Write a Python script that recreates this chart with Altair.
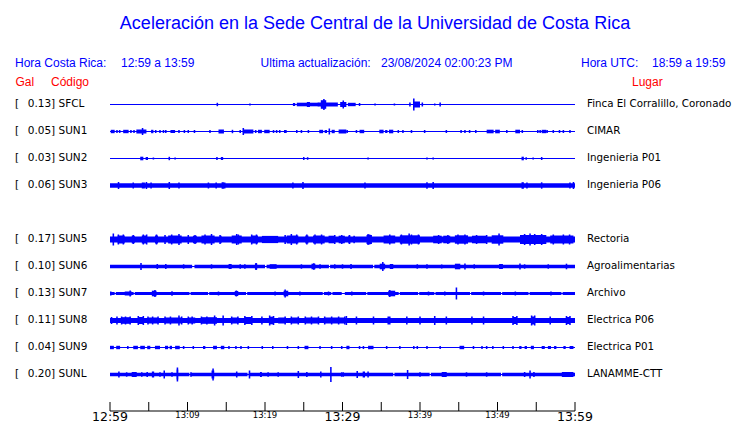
import altair as alt
import pandas as pd

# ---------------- data ----------------
STATIONS = ["SFCL", "SUN1", "SUN2", "SUN3", "SUN5", "SUN6", "SUN7", "SUN8", "SUN9", "SUNL"]
ROWS = [0, 1, 2, 3, 5, 6, 7, 8, 9, 10]
PEAK_GAL = ["0.13", "0.05", "0.03", "0.06", "0.17", "0.10", "0.13", "0.11", "0.04", "0.20"]
LUGAR = ["Finca El Corralillo, Coronado", "CIMAR", "Ingenieria P01", "Ingenieria P06",
         "Rectoria", "Agroalimentarias", "Archivo", "Electrica P06", "Electrica P01", "LANAMME-CTT"]

# background (noise) half-amplitude of each trace, display units (27 = one trace spacing)
BASE_AMP = [0.5, 0.5, 0.5, 2.2, 3.0, 1.7, 1.5, 2.5, 0.5, 1.7]

# bursts: (start minute, end minute, half-amplitude)  minutes after 12:59
SFCL_BLOCKS = [(23.6, 23.9, 1.5), (24.1, 26.9, 1.8), (25.4, 25.8, 2.5), (26.8, 29.4, 2.0),
               (27.2, 27.9, 4.3), (29.7, 30.5, 2.5), (30.7, 31.7, 1.7), (38.6, 38.8, 2.0),
               (39.1, 40.0, 3.0), (40.2, 40.4, 2.0), (42.5, 42.7, 2.0)]
SFCL_SPIKES = [(13.85, 1.7), (18.06, 1.0), (27.6, 5.5), (30.1, 4.0), (32.2, 1.5), (34.2, 1.0),
               (36.7, 1.0), (39.2, 6.0), (41.9, 1.0)]

SUN1_BLOCKS = [(0.1, 0.6, 1.7), (1.7, 2.4, 1.7), (3.0, 3.2, 1.5), (3.4, 4.7, 2.0), (5.3, 5.6, 1.7),
               (7.8, 8.4, 1.5), (14.0, 14.7, 2.0), (15.7, 15.9, 1.7), (17.2, 18.5, 2.0),
               (19.1, 19.6, 1.7), (19.9, 20.6, 1.7), (22.45, 22.8, 1.5), (27.0, 27.5, 1.7),
               (27.7, 28.0, 1.5), (28.6, 29.0, 1.7), (29.5, 30.5, 2.0), (31.7, 31.9, 1.5),
               (32.2, 32.8, 1.7), (34.75, 35.3, 1.8), (35.5, 35.8, 1.5), (36.0, 36.55, 1.8),
               (45.2, 45.4, 1.5), (48.6, 49.5, 1.8), (49.7, 50.3, 1.8), (52.3, 52.9, 1.8),
               (55.7, 56.3, 1.7)]
SUN1_SPIKES = [(0.9, 1.5), (1.25, 1.5), (2.7, 1.5), (4.2, 3.5), (5.9, 1.5), (6.45, 1.5), (6.9, 1.5),
               (7.2, 1.5), (8.9, 1.5), (9.6, 1.5), (10.1, 1.5), (10.9, 1.5), (12.9, 1.5),
               (16.8, 1.5), (17.2, 3.5), (18.8, 1.5), (21.1, 1.5), (21.5, 1.5), (21.9, 1.5),
               (24.1, 1.5), (24.7, 1.5), (25.6, 1.5), (28.3, 3.0), (30.6, 1.5), (37.2, 1.5),
               (37.8, 1.5), (38.9, 1.5), (40.6, 1.5), (43.4, 1.5), (45.8, 1.5), (46.4, 1.5),
               (47.2, 1.5), (51.2, 1.5), (53.2, 1.5), (55.2, 1.5), (55.5, 1.5), (56.4, 1.5),
               (57.2, 1.5), (58.0, 1.5), (58.5, 1.5), (59.35, 1.5)]

SUN2_BLOCKS = [(3.9, 4.3, 1.8), (4.6, 4.9, 1.5), (13.7, 13.9, 1.5), (14.3, 14.6, 1.5),
               (24.9, 25.1, 1.5), (53.1, 53.4, 1.8), (55.6, 55.8, 1.5)]
SUN2_SPIKES = [(5.6, 1.0), (7.65, 1.7), (8.4, 1.0), (25.5, 1.3), (33.3, 1.0), (40.9, 1.0),
               (41.7, 1.0), (53.7, 1.3), (54.6, 1.0)]

SUN3_BLOCKS = [(4.1, 4.5, 3.0), (14.4, 14.7, 3.3), (53.1, 53.4, 3.3)]
SUN3_SPIKES = [(1.1, 3.5), (3.0, 3.0), (4.7, 3.5), (5.3, 3.0), (7.65, 3.5), (8.9, 3.0), (12.7, 3.0),
               (13.7, 3.0), (14.8, 3.0), (23.6, 3.0), (24.9, 3.5), (32.9, 3.0), (40.9, 3.2),
               (41.7, 3.5), (53.8, 3.0), (55.7, 3.2), (59.35, 3.0), (59.8, 3.5)]

SUN5_BLOCKS = [(1.0, 1.9, 4.0), (2.8, 3.2, 3.8), (4.1, 4.7, 4.0), (5.8, 6.2, 4.0), (7.5, 9.25, 4.0),
               (10.7, 11.2, 3.8), (11.8, 13.5, 4.0), (14.2, 14.4, 3.8), (15.7, 17.0, 4.0),
               (18.3, 19.1, 4.0), (19.6, 21.7, 3.6), (22.8, 24.3, 4.0), (25.2, 25.6, 4.0),
               (26.2, 27.7, 4.0), (28.2, 29.0, 3.8), (29.5, 30.3, 3.8), (30.75, 31.0, 3.8),
               (31.4, 31.6, 3.8), (33.1, 33.8, 4.5), (35.3, 36.8, 4.0), (37.4, 40.0, 4.2),
               (41.7, 42.8, 3.8), (43.0, 43.9, 3.8), (44.5, 46.2, 4.2), (46.7, 48.6, 3.8),
               (49.25, 50.75, 4.2), (52.9, 56.3, 4.5), (56.8, 59.8, 4.0)]
SUN5_SPIKES = [(0.43, 6.0), (1.08, 5.0), (1.72, 5.0), (3.0, 4.5), (4.3, 5.0), (4.73, 5.0),
               (6.0, 5.0), (7.1, 4.5), (7.96, 5.0), (8.9, 5.5), (10.1, 4.5), (10.97, 4.5),
               (12.26, 5.0), (13.1, 5.5), (14.2, 4.5), (16.35, 5.5), (16.56, 5.0), (18.28, 5.0),
               (18.9, 5.0), (22.6, 4.5), (23.4, 5.5), (24.09, 5.0), (25.4, 5.0), (26.45, 5.0),
               (27.3, 5.0), (29.0, 4.5), (29.9, 4.5), (30.9, 4.5), (33.3, 5.5), (33.5, 5.0),
               (36.1, 5.0), (37.6, 5.0), (38.6, 6.0), (38.9, 5.0), (39.8, 5.0), (42.4, 4.5),
               (43.6, 4.5), (44.9, 5.0), (45.8, 5.0), (47.3, 4.5), (48.6, 4.5), (50.2, 6.0),
               (53.5, 5.5), (54.2, 6.0), (54.8, 5.5), (55.7, 5.5), (57.2, 5.0), (58.5, 5.0),
               (59.3, 5.0)]

SUN6_BLOCKS = [(7.1, 7.3, 2.5), (15.3, 15.7, 2.5), (18.7, 19.0, 3.0), (20.6, 21.5, 2.3),
               (26.0, 26.5, 2.8), (31.0, 31.2, 2.5), (34.8, 35.5, 2.8), (36.1, 36.55, 2.5),
               (44.5, 45.2, 2.8), (50.2, 50.7, 2.5)]
SUN6_SPIKES = [(4.0, 3.5), (6.1, 2.5), (9.5, 2.2), (13.1, 2.2), (16.8, 2.2), (17.4, 2.2),
               (18.85, 3.5), (24.7, 2.2), (26.3, 3.2), (27.1, 2.2), (29.0, 2.2), (30.0, 2.2),
               (35.2, 4.5), (39.65, 2.2), (40.9, 2.2), (42.8, 2.0), (45.8, 3.0), (47.0, 2.2),
               (52.9, 3.0), (53.5, 2.2), (56.55, 2.2), (58.9, 2.8)]
SUN6_GAPS = [(10.6, 10.9), (20.0, 20.2), (28.25, 28.4), (33.95, 34.1)]

SUN7_BLOCKS = [(0.0, 0.2, 2.0), (1.9, 2.8, 2.0), (5.4, 6.0, 2.8), (16.1, 16.55, 2.5),
               (22.4, 23.0, 2.8), (35.9, 36.8, 2.8)]
SUN7_SPIKES = [(2.6, 3.0), (5.8, 3.5), (8.0, 2.2), (14.0, 2.0), (16.3, 3.0), (21.3, 2.0),
               (22.6, 4.0), (24.5, 2.0), (28.2, 2.0), (31.2, 2.0), (36.1, 3.5), (41.1, 2.0),
               (43.2, 2.0), (44.7, 6.0), (48.2, 2.0), (52.3, 2.0), (56.9, 2.0)]
SUN7_GAPS = [(0.6, 0.75), (3.05, 3.2), (10.25, 10.4), (12.65, 12.8), (17.55, 17.7),
             (27.45, 27.6), (28.55, 28.7), (29.9, 30.3), (33.05, 33.2), (37.25, 37.4),
             (39.75, 39.9), (41.85, 42.0), (46.45, 46.6), (50.45, 50.6), (54.0, 54.15),
             (58.25, 58.4)]

SUN8_BLOCKS = [(1.5, 2.6, 3.3), (3.65, 4.3, 3.5), (4.9, 6.2, 3.0), (7.1, 9.25, 3.0),
               (10.1, 11.0, 3.0), (11.8, 13.8, 3.3), (15.7, 16.55, 3.0), (17.4, 18.3, 3.5),
               (20.6, 21.1, 3.8), (21.7, 22.6, 3.0), (23.4, 24.3, 3.0), (25.2, 26.9, 3.0),
               (27.7, 30.3, 3.0), (35.9, 36.1, 3.5), (52.0, 52.5, 3.5), (54.4, 54.8, 4.0),
               (58.9, 59.35, 3.5)]
SUN8_SPIKES = [(0.2, 3.5), (0.9, 4.0), (1.5, 4.0), (2.0, 4.0), (2.6, 4.0), (3.65, 4.5),
               (4.3, 4.5), (4.9, 4.0), (5.5, 4.0), (6.2, 4.0), (7.1, 4.0), (7.8, 4.0),
               (8.9, 5.0), (9.25, 4.0), (10.1, 4.0), (10.6, 4.0), (11.8, 4.0), (12.5, 4.0),
               (13.5, 5.0), (14.6, 5.0), (15.7, 4.0), (16.5, 4.0), (17.4, 4.5), (18.3, 4.5),
               (19.6, 4.0), (20.6, 5.0), (21.1, 4.5), (22.6, 4.0), (23.4, 4.0), (24.3, 4.0),
               (25.2, 4.0), (26.0, 4.0), (26.9, 4.0), (27.7, 4.0), (28.6, 4.0), (29.5, 4.0),
               (30.3, 4.0), (30.5, 4.5), (31.8, 4.0), (34.0, 4.0), (35.9, 4.0), (36.1, 4.0),
               (38.3, 4.0), (40.0, 4.0), (41.9, 4.5), (43.4, 4.0), (46.7, 4.0), (48.2, 4.0),
               (52.0, 4.5), (52.5, 4.5), (54.4, 5.0), (54.8, 5.0), (56.8, 4.0), (58.9, 4.5),
               (59.35, 4.5)]

SUN9_BLOCKS = [(0.0, 0.5, 1.7), (0.8, 1.3, 1.7), (2.2, 2.4, 1.5), (3.0, 3.6, 1.7), (3.9, 4.5, 1.7),
               (4.8, 5.2, 1.7), (5.8, 6.45, 1.7), (7.1, 7.5, 1.7), (7.7, 8.0, 1.7), (8.4, 9.0, 1.7),
               (12.0, 12.3, 1.5), (13.3, 13.8, 1.7), (14.3, 14.75, 1.7), (16.8, 17.0, 1.5),
               (25.1, 25.6, 1.7), (30.5, 30.9, 1.7), (33.3, 34.0, 1.7), (45.1, 45.7, 1.7),
               (52.8, 53.1, 1.5), (53.5, 53.8, 1.5), (54.3, 54.7, 1.7), (55.7, 56.1, 1.5),
               (56.5, 56.9, 1.5), (57.3, 57.6, 1.5), (58.5, 58.8, 1.5), (59.3, 59.8, 1.5)]
SUN9_SPIKES = [(9.5, 1.5), (10.75, 1.5), (15.35, 1.5), (16.25, 1.5), (17.85, 1.5), (19.65, 1.5),
               (21.0, 1.5), (22.9, 1.5), (24.3, 1.5), (27.1, 1.5), (28.6, 1.5), (29.9, 1.5),
               (32.2, 1.5), (32.7, 1.5), (35.7, 1.5), (37.4, 1.5), (39.2, 1.5), (39.65, 1.5),
               (40.9, 1.5), (42.6, 1.5), (46.9, 1.5), (48.0, 1.5), (48.6, 1.5), (49.4, 1.5),
               (50.75, 1.5), (52.0, 1.5)]

SUNL_BLOCKS = [(2.8, 3.45, 2.5), (5.4, 5.7, 3.0), (8.6, 8.8, 5.0), (13.1, 13.45, 4.0),
               (19.35, 19.6, 2.5), (27.1, 27.3, 3.0), (31.8, 32.0, 3.5), (32.6, 32.9, 3.0),
               (42.8, 43.45, 2.5), (54.6, 54.8, 2.5), (58.3, 59.8, 2.5)]
SUNL_SPIKES = [(1.15, 3.0), (2.15, 2.2), (4.1, 2.2), (4.8, 2.5), (6.45, 2.2), (7.0, 4.0),
               (8.0, 2.2), (8.7, 7.0), (10.45, 2.2), (13.3, 6.0), (16.35, 3.0), (18.0, 4.0),
               (20.4, 2.2), (21.7, 2.2), (24.3, 3.5), (25.4, 2.5), (28.5, 7.5), (29.9, 2.2),
               (30.1, 2.2), (33.3, 3.0), (38.4, 4.5), (40.0, 2.2), (46.0, 2.2), (48.6, 2.2),
               (53.5, 2.5), (54.2, 4.0)]
SUNL_GAPS = [(10.25, 10.4), (17.75, 17.9), (36.55, 36.7), (41.25, 41.4), (50.45, 50.6)]

BLOCKS = [SFCL_BLOCKS, SUN1_BLOCKS, SUN2_BLOCKS, SUN3_BLOCKS, SUN5_BLOCKS, SUN6_BLOCKS,
          SUN7_BLOCKS, SUN8_BLOCKS, SUN9_BLOCKS, SUNL_BLOCKS]
SPIKES = [SFCL_SPIKES, SUN1_SPIKES, SUN2_SPIKES, SUN3_SPIKES, SUN5_SPIKES, SUN6_SPIKES,
          SUN7_SPIKES, SUN8_SPIKES, SUN9_SPIKES, SUNL_SPIKES]
GAPS = [[], [], [], [], [], SUN6_GAPS, SUN7_GAPS, [], [], SUNL_GAPS]

TICK_MINUTES = list(range(0, 61, 5))
LABEL_MINUTES = [0, 10, 20, 30, 40, 50, 60]
LABEL_TEXT = ["12:59", "13:09", "13:19", "13:29", "13:39", "13:49", "13:59"]
LABEL_MAJOR = [True, False, False, True, False, False, True]

# ---------------- layout / style ----------------
BLUE = "#0000ff"
RED = "#ff0000"
UNIT = 27.0           # display amplitude units per trace spacing
THIN = 0.5            # thin line half width
SPIKE_HALF = 0.1      # half duration of a single spike, minutes
Y_BOTTOM = 11.352
Y_DOMAIN = [Y_BOTTOM, -0.5]
W, H = 465, 320

ysc = alt.Scale(domain=Y_DOMAIN, nice=False, zero=False)
xsc = alt.Scale(domain=[0, 60], nice=False, zero=False)

recs = []
for i, r in enumerate(ROWS):
    recs.append(dict(t0=0, t1=60, y=r - THIN / UNIT, y2=r + THIN / UNIT))
    # base band split by gaps
    edges = [0.0]
    for g0, g1 in GAPS[i]:
        edges += [g0, g1]
    edges.append(60.0)
    for k in range(0, len(edges), 2):
        a, b = edges[k], edges[k + 1]
        recs.append(dict(t0=a, t1=b, y=r - BASE_AMP[i] / UNIT, y2=r + BASE_AMP[i] / UNIT))
    for t0, t1, amp in BLOCKS[i]:
        recs.append(dict(t0=t0, t1=t1, y=r - amp / UNIT, y2=r + amp / UNIT))
    for t, amp in SPIKES[i]:
        recs.append(dict(t0=max(0, t - SPIKE_HALF), t1=min(60, t + SPIKE_HALF),
                         y=r - amp / UNIT, y2=r + amp / UNIT))
trace_df = pd.DataFrame(recs)

traces = alt.Chart(trace_df).mark_rect(color=BLUE, strokeWidth=0).encode(
    x=alt.X("t0:Q", scale=xsc, axis=None),
    x2="t1:Q",
    y=alt.Y("y:Q", scale=ysc, axis=None),
    y2="y2:Q",
)

st_df = pd.DataFrame({
    "y": ROWS,
    "lab": [f"{g}] {s}" for g, s in zip(PEAK_GAL, STATIONS)],
    "br": ["["] * len(ROWS),
    "lugar": LUGAR,
})
LAB_FONT = "DejaVu Sans"
LAB_SIZE = 10.5
bracket = alt.Chart(st_df).mark_text(align="left", baseline="middle", font=LAB_FONT,
                                     fontSize=LAB_SIZE, color="black").encode(
    x=alt.value(-95), y=alt.Y("y:Q", scale=ysc, axis=None), text="br:N")
codes = alt.Chart(st_df).mark_text(align="left", baseline="middle", font=LAB_FONT,
                                   fontSize=LAB_SIZE, color="black").encode(
    x=alt.value(-82.3), y=alt.Y("y:Q", scale=ysc, axis=None), text="lab:N")
places = alt.Chart(st_df).mark_text(align="left", baseline="middle", font=LAB_FONT,
                                    fontSize=10.3, color="black").encode(
    x=alt.value(477), y=alt.Y("y:Q", scale=ysc, axis=None), text="lugar:N")

# time axis
axis_df = pd.DataFrame({"t0": [0], "t1": [60], "y": [Y_BOTTOM]})
axis_line = alt.Chart(axis_df).mark_rule(color="black", strokeWidth=1).encode(
    x=alt.X("t0:Q", scale=xsc, axis=None), x2="t1:Q",
    y=alt.Y("y:Q", scale=ysc, axis=None))
tick_df = pd.DataFrame({"t": TICK_MINUTES, "y": [Y_BOTTOM] * len(TICK_MINUTES),
                        "y2": [Y_BOTTOM - 9 / UNIT] * len(TICK_MINUTES)})
ticks = alt.Chart(tick_df).mark_rule(color="black", strokeWidth=1).encode(
    x=alt.X("t:Q", scale=xsc, axis=None),
    y=alt.Y("y:Q", scale=ysc, axis=None), y2="y2:Q")
lab_df = pd.DataFrame({"t": LABEL_MINUTES, "txt": LABEL_TEXT, "major": LABEL_MAJOR})
major_labels = alt.Chart(lab_df).transform_filter("datum.major").mark_text(
    align="center", baseline="middle", font="DejaVu Sans", fontSize=12.5, color="black").encode(
    x=alt.X("t:Q", scale=xsc, axis=None), y=alt.value(326), text="txt:N")
minor_labels = alt.Chart(lab_df).transform_filter("!datum.major").mark_text(
    align="center", baseline="middle", font="DejaVu Sans", fontSize=8.5, color="black").encode(
    x=alt.X("t:Q", scale=xsc, axis=None), y=alt.value(324), text="txt:N")


def label(text, x, y, size=12, color=BLUE, align="left"):
    return alt.Chart(pd.DataFrame({"s": [text]})).mark_text(
        align=align, baseline="middle", font="Liberation Sans", fontSize=size, color=color
    ).encode(x=alt.value(x), y=alt.value(y), text="s:N")


headers = [
    label("Aceleración en la Sede Central de la Universidad de Costa Rica", 265, -67, size=18,
          align="center"),
    label("Hora Costa Rica:", -95, -28),
    label("12:59 a 13:59", 11, -28),
    label("Ultima actualización:", 150.6, -28),
    label("23/08/2024 02:00:23 PM", 271, -28),
    label("Hora UTC:", 471, -28),
    label("18:59 a 19:59", 542, -28),
    label("Gal", -94.5, -9, color=RED),
    label("Código", -59, -9, color=RED),
    label("Lugar", 522, -9, color=RED),
]

chart = alt.layer(
    traces, bracket, codes, places, axis_line, ticks, major_labels, minor_labels, *headers
).properties(
    width=W, height=H,
    autosize="none",
    padding={"left": 102, "top": 83, "right": 157, "bottom": 16},
).configure_view(stroke=None)

chart.save("out.html", embed_options={"renderer": "svg", "actions": False})
